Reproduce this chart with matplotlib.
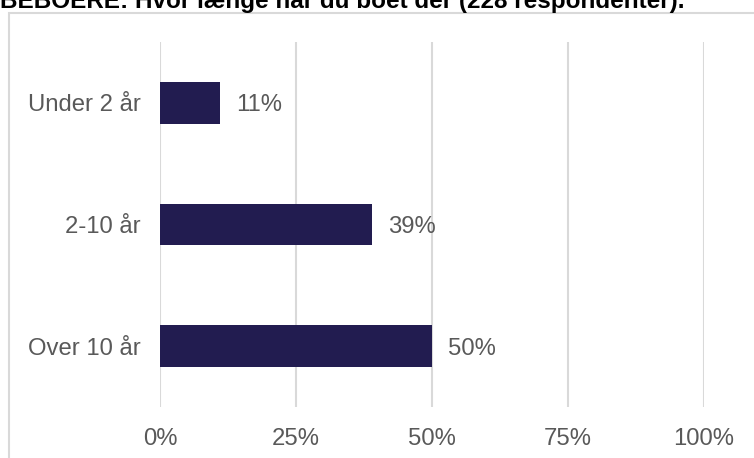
import matplotlib.pyplot as plt
from matplotlib.patches import Rectangle
from matplotlib.ticker import PercentFormatter

plt.rcParams['font.family'] = ['Liberation Sans', 'DejaVu Sans']

# data
categories = ['Under 2 år', '2-10 år', 'Over 10 år']
shares = [11, 39, 50]
xticks = [0, 25, 50, 75, 100]
title = 'BEBOERE: Hvor længe har du boet der (228 respondenter).'

bar_color = '#221c50'
grid_color = '#d9d9d9'
text_color = '#595959'

fig = plt.figure(figsize=(7.54, 4.58), dpi=100)

# light frame around the chart area (runs off the right/bottom edge)
fig.patches.append(Rectangle((9 / 754, -0.1), 1.0, 1 - 13 / 458 + 0.1,
                             transform=fig.transFigure, fill=False,
                             edgecolor=grid_color, linewidth=1.5))

fig.text(0, 1 - 8 / 458, title, fontsize=17.5, fontweight='bold',
         ha='left', va='baseline', color='black')

ax = fig.add_axes([160 / 754, 1 - 407 / 458, 544 / 754, 365 / 458])
ypos = range(len(categories))
ax.barh(ypos, shares, height=0.345, color=bar_color, zorder=3)
ax.set_ylim(len(categories) - 0.5, -0.5)
ax.set_xlim(0, 100)
ax.set_xticks(xticks)
ax.xaxis.set_major_formatter(PercentFormatter(decimals=0))
ax.set_yticks(list(ypos))
ax.set_yticklabels(categories)
ax.tick_params(axis='both', length=0, labelsize=17.2, colors=text_color)
ax.tick_params(axis='x', pad=15)
ax.tick_params(axis='y', pad=14)
ax.grid(axis='x', color=grid_color, linewidth=1.5, zorder=0)
for s in ax.spines.values():
    s.set_visible(False)
ax.set_facecolor('none')

for y, v in zip(ypos, shares):
    ax.text(v + 3.0, y, f'{v}%', va='center_baseline', ha='left',
            fontsize=17.2, color=text_color)

fig.savefig('out.png', dpi=100)
